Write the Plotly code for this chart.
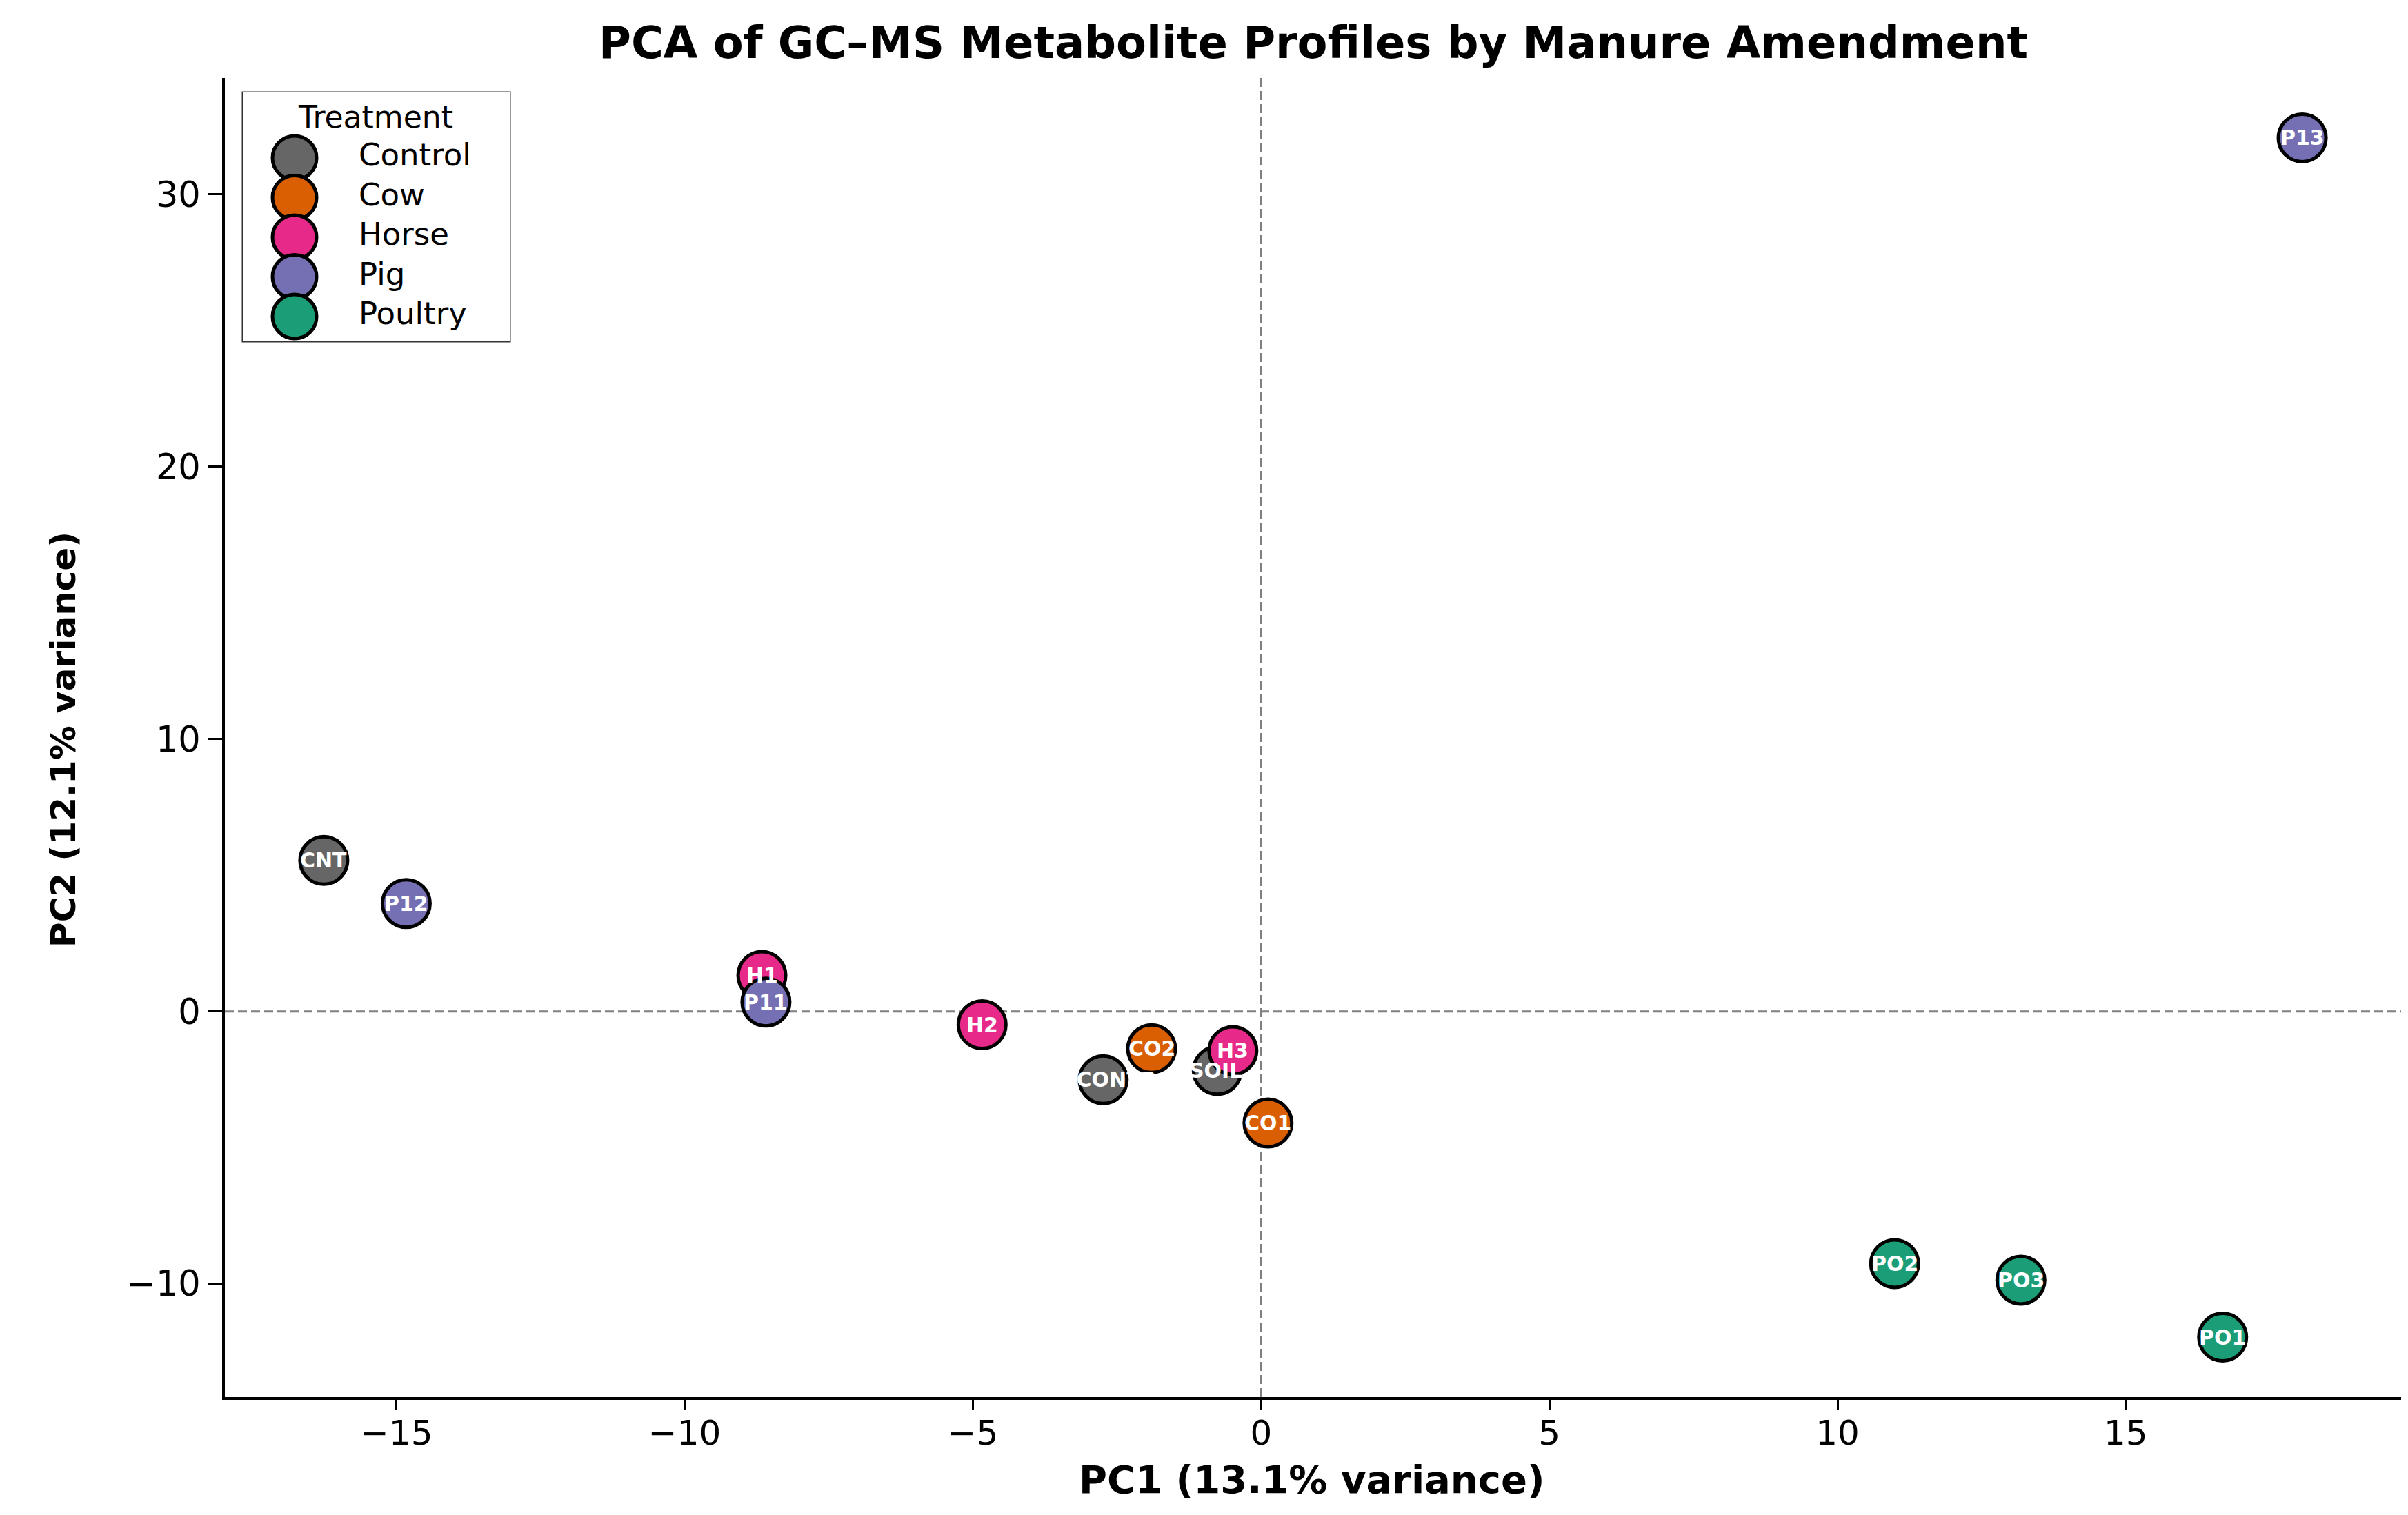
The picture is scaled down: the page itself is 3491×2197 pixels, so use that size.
import plotly.graph_objects as go

# ---------------- data ----------------
treatments = ["Control", "Cow", "Horse", "Pig", "Poultry"]
colors = ["#666666", "#d95f02", "#e7298a", "#7570b3", "#1b9e77"]

samples = ["CNT", "MIX CONTROL", "SOIL", "CO1", "CO2", "H1", "H2", "H3",
           "P11", "P12", "P13", "PO1", "PO2", "PO3"]
sample_group = ["Control", "Control", "Control", "Cow", "Cow", "Horse", "Horse", "Horse",
                "Pig", "Pig", "Pig", "Poultry", "Poultry", "Poultry"]
pc1 = [-16.26, -2.74, -0.76, 0.12, -1.90, -8.66, -4.84, -0.49,
       -8.59, -14.83, 18.06, 16.68, 10.99, 13.18]
pc2 = [5.54, -2.51, -2.17, -4.10, -1.37, 1.32, -0.49, -1.44,
       0.34, 3.96, 32.07, -11.96, -9.26, -9.87]
label_shift = [0, 4, -2, 0, 0, 0, 0, 0, 0, 0, 0, 0, 0, 0]

x_ticks = [-15, -10, -5, 0, 5, 10, 15]
y_ticks = [-10, 0, 10, 20, 30]

title = "PCA of GC\u2013MS Metabolite Profiles by Manure Amendment"
x_title = "PC1 (13.1% variance)"
y_title = "PC2 (12.1% variance)"
legend_title = "Treatment"

# ---------------- layout constants ----------------
W, H = 3491, 2197
L, R, T, B = 318, 3473, 105, 2018
FONT = "DejaVu Sans"


def px_x(p):
    return (p - L) / (R - L)


def px_y(p):
    return (B - p) / (B - T)


def padded(vals, frac=0.05):
    lo, hi = min(vals), max(vals)
    pad = (hi - lo) * frac
    return [lo - pad, hi + pad]


fig = go.Figure()

# main scatter, one trace per treatment
for t, c in zip(treatments, colors):
    xs = [x for x, g in zip(pc1, sample_group) if g == t]
    ys = [y for y, g in zip(pc2, sample_group) if g == t]
    fig.add_trace(go.Scatter(
        x=xs, y=ys, mode="markers", name=t, showlegend=False,
        marker=dict(size=69, color=c, line=dict(color="black", width=5)),
        xaxis="x", yaxis="y", cliponaxis=False,
    ))

# sample labels (drawn above all markers)
annotations = []
for s, x, y, dx in zip(samples, pc1, pc2, label_shift):
    annotations.append(dict(
        x=x, y=y, xref="x", yref="y", text=s, showarrow=False,
        xshift=dx, font=dict(family=FONT, size=30, color="white", weight="bold"),
        xanchor="center", yanchor="middle",
    ))

# ---------------- custom legend (large markers) ----------------
leg_x0, leg_x1 = 344, 731
leg_y0, leg_y1 = 126, 487
mk_px, txt_px, row0_px, row_step = 419, 512, 221, 57.5
leg_unit = txt_px - mk_px
leg_idx = [-i for i in range(len(treatments))]

fig.add_trace(go.Scatter(
    x=[0] * len(treatments), y=leg_idx, mode="markers", showlegend=False,
    marker=dict(size=64, color=colors, line=dict(color="black", width=5)),
    xaxis="x2", yaxis="y2", cliponaxis=False, hoverinfo="skip",
))
fig.add_trace(go.Scatter(
    x=[1] * len(treatments), y=leg_idx, mode="text", text=treatments,
    textposition="middle right", showlegend=False,
    textfont=dict(family=FONT, size=45, color="black"),
    xaxis="x2", yaxis="y2", cliponaxis=False, hoverinfo="skip",
))
annotations.append(dict(
    x=(536 - mk_px) / leg_unit, y=(row0_px - 161) / row_step, xref="x2", yref="y2",
    text=legend_title, showarrow=False, xanchor="center", yanchor="middle",
    font=dict(family=FONT, size=44, color="black"),
))

# axis titles
annotations.append(dict(
    x=px_x(1894), y=px_y(2137), xref="paper", yref="paper", text=x_title,
    showarrow=False, xanchor="center", yanchor="middle",
    font=dict(family=FONT, size=56, color="black", weight="bold"),
))
annotations.append(dict(
    x=px_x(84), y=px_y(1065), xref="paper", yref="paper", text=y_title,
    showarrow=False, xanchor="center", yanchor="middle", textangle=-90,
    font=dict(family=FONT, size=50, color="black", weight="bold"),
))

shapes = [
    dict(type="line", xref="x", yref="paper", x0=0, x1=0, y0=0, y1=1,
         line=dict(color="#808080", width=3, dash="13px,6px"), layer="below"),
    dict(type="line", xref="paper", yref="y", x0=0, x1=1, y0=0, y1=0,
         line=dict(color="#808080", width=3, dash="13px,6px"), layer="below"),
    dict(type="rect", xref="paper", yref="paper",
         x0=px_x(leg_x0), x1=px_x(leg_x1), y0=px_y(leg_y1), y1=px_y(leg_y0),
         line=dict(color="#333333", width=3), fillcolor="rgba(255,255,255,0.8)",
         layer="below"),
]

fig.update_layout(
    width=W, height=H,
    margin=dict(l=L, r=W - R, t=T, b=H - B, pad=0),
    paper_bgcolor="white", plot_bgcolor="white",
    title=dict(text=title, x=px_x(1896), xref="paper", xanchor="center",
               y=1 - 54 / H, yref="container", yanchor="middle",
               font=dict(family=FONT, size=64, color="black", weight="bold")),
    xaxis=dict(range=padded(pc1), tickvals=x_ticks, showgrid=False, zeroline=False,
               showline=True, linecolor="black", linewidth=4, ticks="outside",
               ticklen=15, tickwidth=3, tickcolor="black", ticklabelstandoff=-10,
               tickfont=dict(family=FONT, size=50, color="black"), domain=[0, 1]),
    yaxis=dict(range=padded(pc2), tickvals=y_ticks, showgrid=False, zeroline=False,
               showline=True, linecolor="black", linewidth=4, ticks="outside",
               ticklen=21, tickwidth=3, tickcolor="black",
               tickfont=dict(family=FONT, size=51, color="black"), domain=[0, 1]),
    xaxis2=dict(domain=[px_x(leg_x0), px_x(leg_x1)], anchor="y2", visible=False,
                range=[(leg_x0 - mk_px) / leg_unit, (leg_x1 - mk_px) / leg_unit],
                fixedrange=True),
    yaxis2=dict(domain=[px_y(leg_y1), px_y(leg_y0)], anchor="x2", visible=False,
                range=[-(leg_y1 - row0_px) / row_step, (row0_px - leg_y0) / row_step],
                fixedrange=True),
    shapes=shapes,
    annotations=annotations,
    showlegend=False,
)

fig.write_html("out.html")
